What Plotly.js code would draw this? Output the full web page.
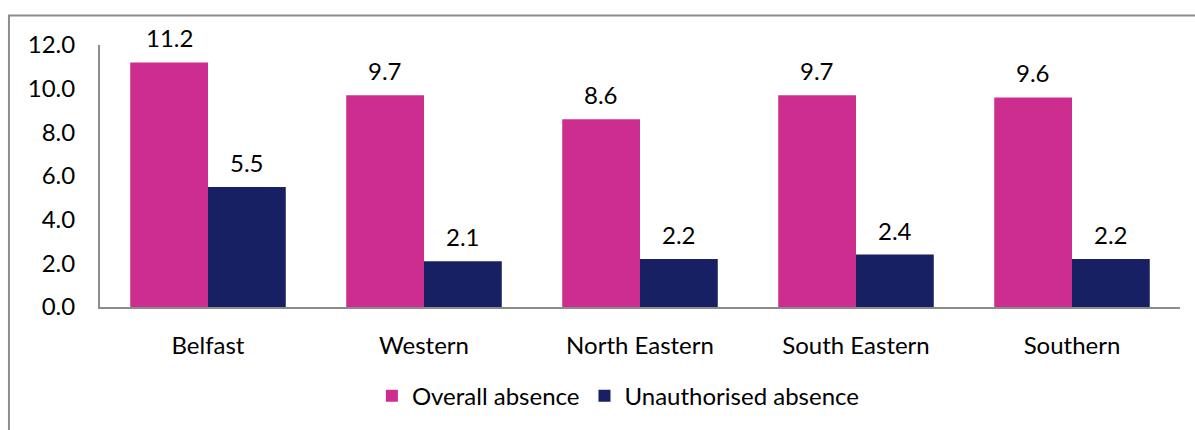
<!DOCTYPE html>
<html>
<head>
<meta charset="utf-8">
<script src="https://cdn.plot.ly/plotly-3.0.1.min.js"></script>
<style>html,body{margin:0;padding:0;background:#fff;}#chart{width:1195px;height:430px;}</style>
</head>
<body>
<div id="chart"></div>
<script>
var categories = ["Belfast", "Western", "North Eastern", "South Eastern", "Southern"];
var overallAbsence = [11.2, 9.7, 8.6, 9.7, 9.6];
var unauthorisedAbsence = [5.5, 2.1, 2.2, 2.4, 2.2];
var seriesNames = ["Overall absence", "Unauthorised absence"];
var yTickValues = [0, 2, 4, 6, 8, 10, 12];
var yTickLabels = ["0.0", "2.0", "4.0", "6.0", "8.0", "10.0", "12.0"];

var FONT = "Lato, 'Open Sans', sans-serif";
var FS = 24;
var traces = [
  {type: "bar", name: seriesNames[0], x: categories, y: overallAbsence, marker: {color: "#CC2D8F"}},
  {type: "bar", name: seriesNames[1], x: categories, y: unauthorisedAbsence, marker: {color: "#162062"}}
];
var annotations = [];
[overallAbsence, unauthorisedAbsence].forEach(function(series, si){
  series.forEach(function(v, i){
    annotations.push({x: categories[i], y: v, xref: "x", yref: "y", text: v.toFixed(1),
      showarrow: false, yanchor: "bottom", xanchor: "center", xshift: si === 0 ? -39 : 39, yshift: 8,
      font: {size: FS, family: FONT, color: "#000"}});
  });
});
var layout = {
  width: 1195, height: 430,
  margin: {l: 100, r: 15, t: 45, b: 120},
  paper_bgcolor: "#fff", plot_bgcolor: "#fff",
  font: {family: FONT, size: FS, color: "#000"},
  barmode: "group", bargap: 0.28, bargroupgap: 0,
  showlegend: true,
  legend: {orientation: "h", x: 0.48, xanchor: "center", y: -0.34, yanchor: "middle",
           font: {size: FS, family: FONT}, itemclick: false, traceorder: "normal"},
  xaxis: {type: "category", showline: true, linecolor: "#8c8c8c", linewidth: 2,
          ticks: "outside", ticklen: 16, tickcolor: "rgba(0,0,0,0)", showgrid: false,
          tickfont: {size: FS, family: FONT}},
  yaxis: {range: [0, 12], tickvals: yTickValues, ticktext: yTickLabels,
          showline: true, linecolor: "#8c8c8c", linewidth: 2, showgrid: false, zeroline: false,
          ticks: "outside", ticklen: 18, tickcolor: "rgba(0,0,0,0)",
          tickfont: {size: FS, family: FONT}},
  annotations: annotations,
  shapes: [{type: "rect", xref: "paper", yref: "paper",
            x0: -0.0843, x1: 1.1, y0: -0.6, y1: 1.113,
            line: {color: "#8c8c8c", width: 2}, fillcolor: "rgba(0,0,0,0)", layer: "below"}]
};
Plotly.newPlot("chart", traces, layout, {displayModeBar: false, staticPlot: true});
</script>
</body>
</html>
